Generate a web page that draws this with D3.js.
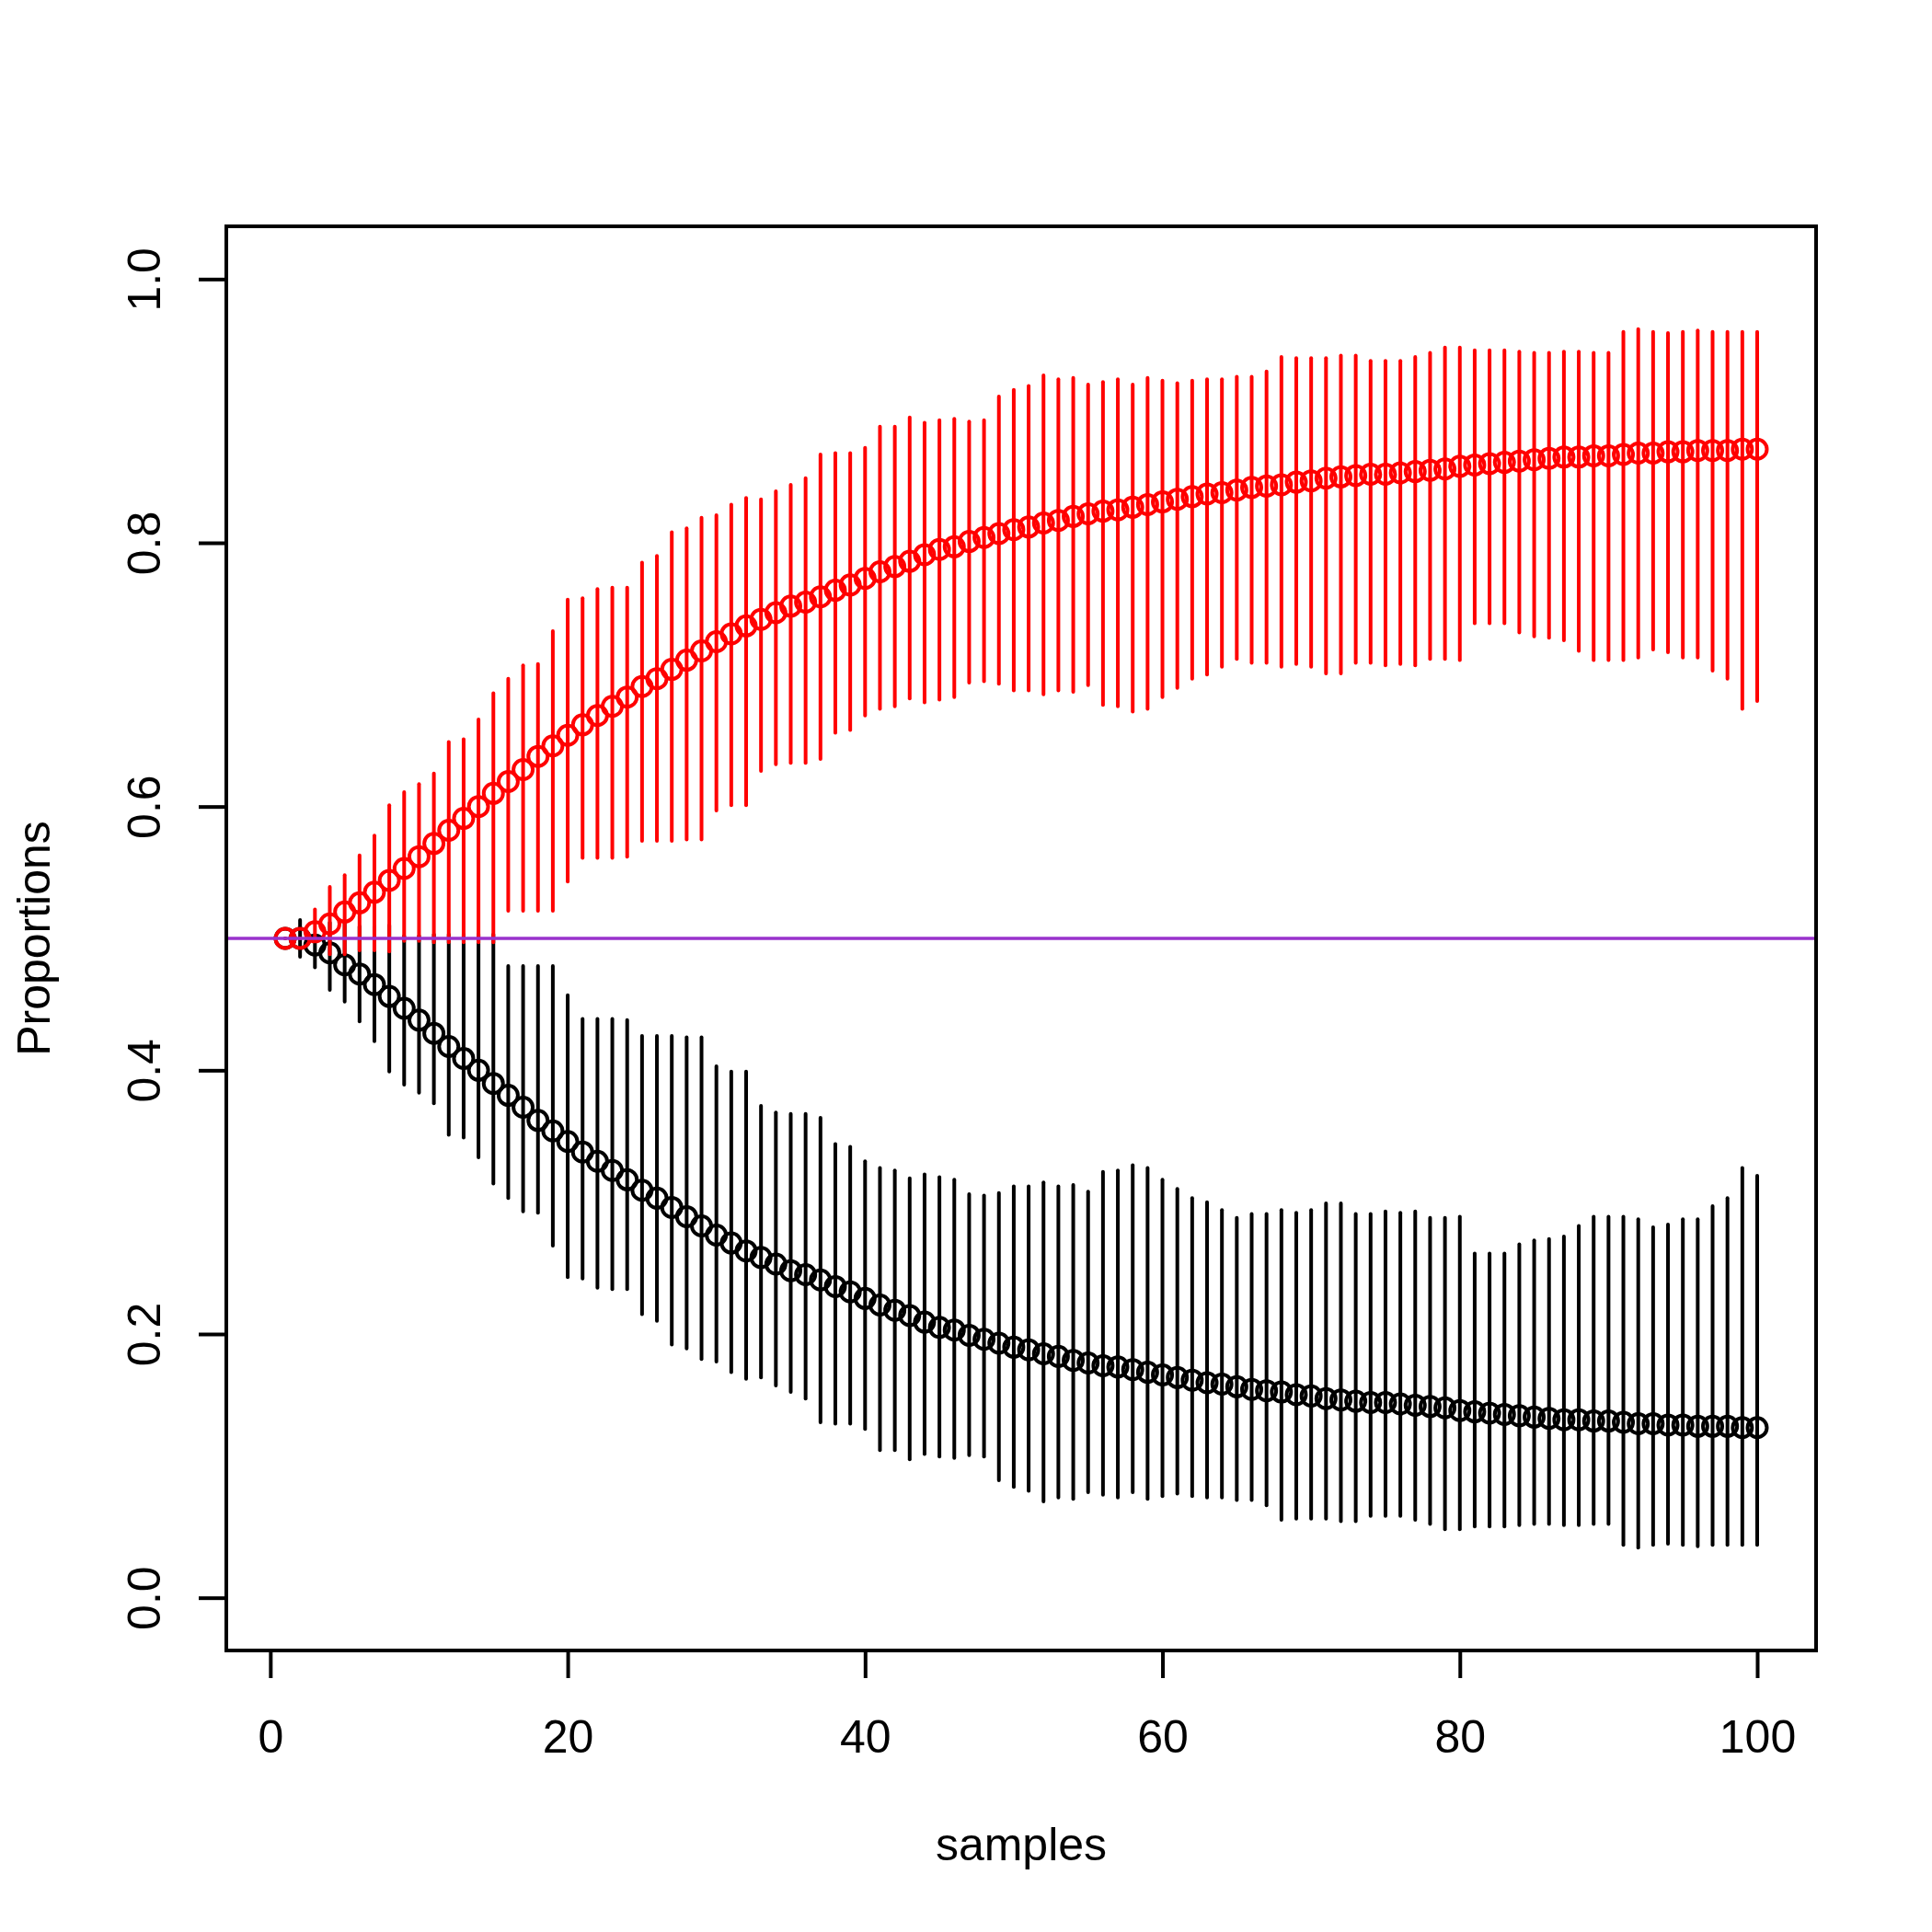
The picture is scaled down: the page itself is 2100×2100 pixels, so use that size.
<!DOCTYPE html>
<html>
<head>
<meta charset="utf-8">
<script src="https://cdn.jsdelivr.net/npm/d3@7/dist/d3.min.js"></script>
<style>
  body { margin: 0; background: #fff; }
  svg text { font-family: "Liberation Sans", Arial, Helvetica, sans-serif; }
</style>
</head>
<body>
<div id="viz"></div>
<script>
// proportions, samples 1..100

var redMean = [0.500,0.500,0.505,0.511,0.520,0.527,0.535,0.544,0.553,0.562,
               0.572,0.582,0.591,0.600,0.610,0.619,0.628,0.638,0.646,0.654,
               0.662,0.669,0.676,0.683,0.691,0.697,0.704,0.711,0.718,0.725,
               0.731,0.737,0.742,0.747,0.752,0.755,0.759,0.764,0.768,0.773,
               0.778,0.782,0.786,0.791,0.795,0.797,0.801,0.804,0.807,0.810,
               0.812,0.815,0.817,0.820,0.822,0.824,0.825,0.827,0.829,0.831,
               0.833,0.835,0.837,0.838,0.840,0.842,0.843,0.844,0.846,0.847,
               0.849,0.850,0.851,0.852,0.852,0.853,0.854,0.855,0.856,0.858,
               0.859,0.860,0.861,0.862,0.863,0.864,0.865,0.865,0.866,0.866,
               0.867,0.868,0.868,0.869,0.869,0.870,0.870,0.870,0.871,0.871];

var redLo = [0.500,0.500,0.498,0.488,0.488,0.491,0.491,0.490,0.498,0.498,
             0.497,0.497,0.497,0.497,0.497,0.521,0.521,0.521,0.521,0.543,
             0.561,0.561,0.561,0.562,0.574,0.574,0.574,0.575,0.575,0.597,
             0.601,0.601,0.627,0.632,0.633,0.633,0.636,0.656,0.658,0.669,
             0.674,0.676,0.682,0.679,0.681,0.683,0.694,0.695,0.693,0.688,
             0.688,0.685,0.688,0.687,0.692,0.677,0.676,0.672,0.674,0.683,
             0.690,0.697,0.700,0.706,0.712,0.709,0.709,0.706,0.708,0.706,
             0.701,0.701,0.709,0.709,0.707,0.708,0.707,0.712,0.712,0.711,
             0.739,0.739,0.739,0.732,0.729,0.728,0.726,0.718,0.711,0.711,
             0.711,0.713,0.719,0.717,0.713,0.713,0.703,0.697,0.674,0.680];

var redHi = [0.500,0.500,0.522,0.539,0.548,0.563,0.578,0.601,0.611,0.617,
             0.625,0.649,0.651,0.666,0.686,0.697,0.707,0.708,0.733,0.757,
             0.758,0.765,0.766,0.766,0.785,0.790,0.808,0.811,0.819,0.821,
             0.829,0.834,0.833,0.839,0.844,0.849,0.867,0.868,0.868,0.872,
             0.888,0.888,0.895,0.891,0.893,0.894,0.892,0.893,0.911,0.916,
             0.919,0.927,0.924,0.925,0.920,0.922,0.924,0.920,0.925,0.923,
             0.921,0.923,0.924,0.924,0.926,0.926,0.930,0.941,0.940,0.940,
             0.940,0.942,0.942,0.938,0.938,0.938,0.941,0.944,0.948,0.948,
             0.946,0.946,0.946,0.945,0.944,0.944,0.945,0.945,0.944,0.944,
             0.960,0.962,0.960,0.959,0.960,0.961,0.960,0.960,0.960,0.960];

var blackMean = [0.500,0.500,0.495,0.489,0.480,0.473,0.465,0.456,0.447,0.438,
                 0.428,0.418,0.409,0.400,0.390,0.381,0.372,0.362,0.354,0.346,
                 0.338,0.331,0.324,0.317,0.309,0.303,0.296,0.289,0.282,0.275,
                 0.269,0.263,0.258,0.253,0.248,0.245,0.241,0.236,0.232,0.227,
                 0.222,0.218,0.214,0.209,0.205,0.203,0.199,0.196,0.193,0.190,
                 0.188,0.185,0.183,0.180,0.178,0.176,0.175,0.173,0.171,0.169,
                 0.167,0.165,0.163,0.162,0.160,0.158,0.157,0.156,0.154,0.153,
                 0.151,0.150,0.149,0.148,0.148,0.147,0.146,0.145,0.144,0.142,
                 0.141,0.140,0.139,0.138,0.137,0.136,0.135,0.135,0.134,0.134,
                 0.133,0.132,0.132,0.131,0.131,0.130,0.130,0.130,0.129,0.129];

var blackLo = [0.500,0.486,0.478,0.461,0.452,0.437,0.422,0.399,0.389,0.383,
               0.375,0.351,0.349,0.334,0.314,0.303,0.293,0.292,0.267,0.243,
               0.242,0.235,0.234,0.234,0.215,0.210,0.192,0.189,0.181,0.179,
               0.171,0.166,0.167,0.161,0.156,0.151,0.133,0.132,0.132,0.128,
               0.112,0.112,0.105,0.109,0.107,0.106,0.108,0.107,0.089,0.084,
               0.081,0.073,0.076,0.075,0.080,0.078,0.076,0.080,0.075,0.077,
               0.079,0.077,0.076,0.076,0.074,0.074,0.070,0.059,0.060,0.060,
               0.060,0.058,0.058,0.062,0.062,0.062,0.059,0.056,0.052,0.052,
               0.054,0.054,0.054,0.055,0.056,0.056,0.055,0.055,0.056,0.056,
               0.040,0.038,0.040,0.041,0.040,0.039,0.040,0.040,0.040,0.040];

var blackHi = [0.500,0.514,0.502,0.512,0.512,0.509,0.509,0.510,0.502,0.502,
               0.503,0.503,0.503,0.503,0.503,0.479,0.479,0.479,0.479,0.457,
               0.439,0.439,0.439,0.438,0.426,0.426,0.426,0.425,0.425,0.403,
               0.399,0.399,0.373,0.368,0.367,0.367,0.364,0.344,0.342,0.331,
               0.326,0.324,0.318,0.321,0.319,0.317,0.306,0.305,0.307,0.312,
               0.312,0.315,0.312,0.313,0.308,0.323,0.324,0.328,0.326,0.317,
               0.310,0.303,0.300,0.294,0.288,0.291,0.291,0.294,0.292,0.294,
               0.299,0.299,0.291,0.291,0.293,0.292,0.293,0.288,0.288,0.289,
               0.261,0.261,0.261,0.268,0.271,0.272,0.274,0.282,0.289,0.289,
               0.289,0.287,0.281,0.283,0.287,0.287,0.297,0.303,0.326,0.320];

var xTicks = [0, 20, 40, 60, 80, 100];
var yTicks = [0, 0.2, 0.4, 0.6, 0.8, 1.0];
var refLine = 0.5;

// R style margins at 300 dpi: one line = 60px
var screenWidth = 2100,
    screenHeight = 2100,
    margin = {"top": 246, "bottom": 306, "left": 246, "right": 126},
    plotRight = screenWidth - margin.right,
    plotBottom = screenHeight - margin.bottom,
    lineW = 4;

var svg = d3.select("div#viz")
            .append("svg")
            .attr("width", screenWidth)
            .attr("height", screenHeight);

svg.append("rect")
   .attr("width", screenWidth)
   .attr("height", screenHeight)
   .attr("fill", "#fff");

// 4% padding on both axes, like R
var xScale = d3.scaleLinear()
               .domain([1 - 0.04 * 99, 100 + 0.04 * 99])
               .range([margin.left, plotRight]),
    yScale = d3.scaleLinear()
               .domain([-0.04, 1.04])
               .range([plotBottom, margin.top]);

var samples = redMean.map(function(d, i) { return i + 1; });

var drawSeries = function(mean, lo, hi, colour) {
    var g = svg.append("g");

    g.selectAll("line.bar")
     .data(samples)
     .enter()
     .append("line")
     .attr("class", "bar")
     .attr("x1", function(d) { return xScale(d); })
     .attr("x2", function(d) { return xScale(d); })
     .attr("y1", function(d, i) { return yScale(lo[i]); })
     .attr("y2", function(d, i) { return yScale(hi[i]); })
     .attr("stroke", colour)
     .attr("stroke-width", lineW)
     .attr("stroke-linecap", "round");

    g.selectAll("circle")
     .data(samples)
     .enter()
     .append("circle")
     .attr("cx", function(d) { return xScale(d); })
     .attr("cy", function(d, i) { return yScale(mean[i]); })
     .attr("r", 10.5)
     .attr("fill", "none")
     .attr("stroke", colour)
     .attr("stroke-width", lineW);
};

drawSeries(blackMean, blackLo, blackHi, "#000000");
drawSeries(redMean, redLo, redHi, "#ff0000");

// reference line at 0.5
svg.append("line")
   .attr("x1", margin.left)
   .attr("x2", plotRight)
   .attr("y1", yScale(refLine))
   .attr("y2", yScale(refLine))
   .attr("stroke", "#9932cc")
   .attr("stroke-width", 3.6);

// x axis
var xAxis = d3.axisBottom(xScale)
              .tickValues(xTicks)
              .tickSize(30)
              .tickSizeOuter(0)
              .tickFormat(d3.format("d"));

var gx = svg.append("g")
            .attr("transform", "translate(0," + plotBottom + ")")
            .call(xAxis);
gx.select(".domain").remove();
gx.selectAll(".tick line").attr("stroke", "#000").attr("stroke-width", lineW);
gx.selectAll(".tick text")
  .attr("y", 111)
  .attr("dy", 0)
  .attr("fill", "#000")
  .style("font-size", "50px")
  .style("font-family", "'Liberation Sans', Arial, Helvetica, sans-serif");

// y axis, labels turned like R's las = 0
var yAxis = d3.axisLeft(yScale)
              .tickValues(yTicks)
              .tickSize(30)
              .tickSizeOuter(0)
              .tickFormat(d3.format(".1f"));

var gy = svg.append("g")
            .attr("transform", "translate(" + margin.left + ",0)")
            .call(yAxis);
gy.select(".domain").remove();
gy.selectAll(".tick line").attr("stroke", "#000").attr("stroke-width", lineW);
gy.selectAll(".tick text")
  .attr("transform", "rotate(-90)")
  .attr("x", 0)
  .attr("y", -72)
  .attr("dy", 0)
  .attr("text-anchor", "middle")
  .attr("fill", "#000")
  .style("font-size", "50px")
  .style("font-family", "'Liberation Sans', Arial, Helvetica, sans-serif");

// box
svg.append("rect")
   .attr("x", margin.left)
   .attr("y", margin.top)
   .attr("width", plotRight - margin.left)
   .attr("height", plotBottom - margin.top)
   .attr("fill", "none")
   .attr("stroke", "#000")
   .attr("stroke-width", lineW);

// axis titles
svg.append("text")
   .attr("x", (margin.left + plotRight) / 2)
   .attr("y", 2022)
   .attr("text-anchor", "middle")
   .style("font-size", "50px")
   .text("samples");

svg.append("text")
   .attr("transform", "translate(54," + ((margin.top + plotBottom) / 2) + ") rotate(-90)")
   .attr("text-anchor", "middle")
   .style("font-size", "50px")
   .text("Proportions");
</script>
</body>
</html>
